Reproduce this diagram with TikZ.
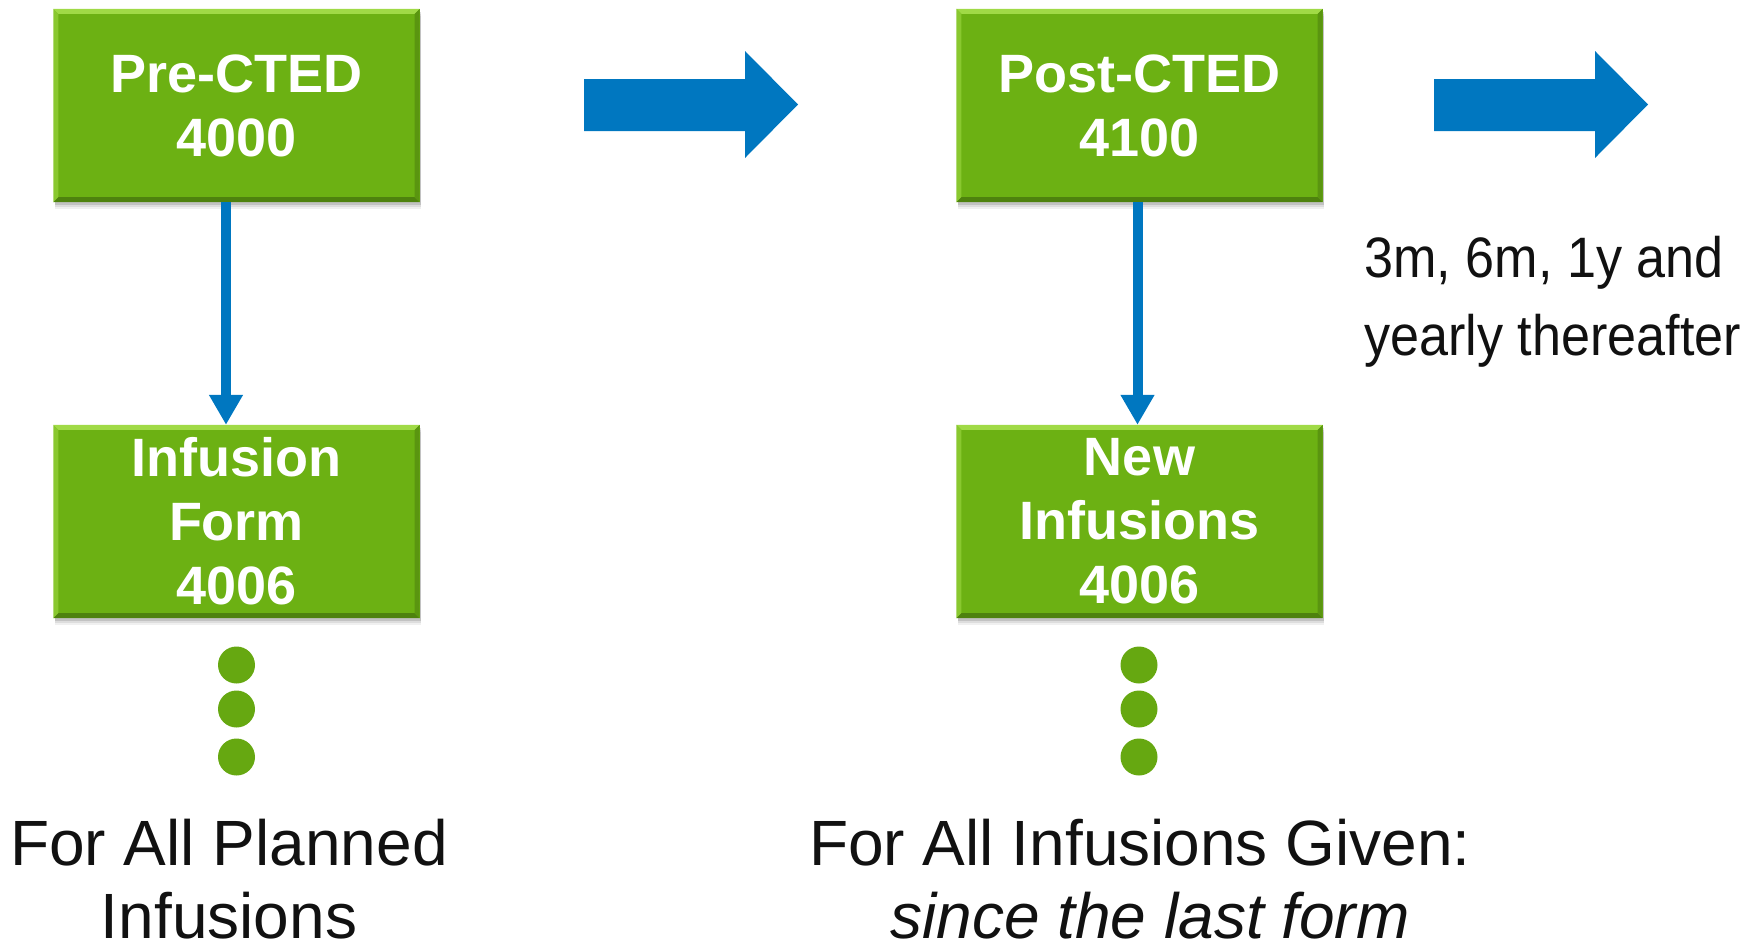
\documentclass[tikz,border=0pt]{standalone}
\usepackage{fontspec}
\setmainfont{Liberation Sans}
\newfontfamily\narrowfont[FakeStretch=0.915]{Liberation Sans}
\usetikzlibrary{arrows.meta,shadows}

\definecolor{boxgreen}{RGB}{108,177,19}
\definecolor{boxlight}{RGB}{160,218,70}
\definecolor{boxdark}{RGB}{78,130,14}
\definecolor{dotgreen}{RGB}{102,168,17}
\definecolor{flowblue}{RGB}{0,119,192}
\definecolor{inkblack}{RGB}{17,17,17}

% bevelled edges of a form box
\newcommand\bevelframe[1]{%
  \fill[boxlight] (#1.north west) -- (#1.north east) -- ([xshift=-5pt,yshift=-5pt]#1.north east) -- ([xshift=5pt,yshift=-5pt]#1.north west) -- cycle;
  \fill[boxlight!55!boxgreen] (#1.north west) -- ([xshift=5pt,yshift=-5pt]#1.north west) -- ([xshift=5pt,yshift=5pt]#1.south west) -- (#1.south west) -- cycle;
  \fill[boxdark] (#1.south west) -- (#1.south east) -- ([xshift=-5pt,yshift=5pt]#1.south east) -- ([xshift=5pt,yshift=5pt]#1.south west) -- cycle;
  \fill[boxdark!60!boxgreen] (#1.north east) -- (#1.south east) -- ([xshift=-5pt,yshift=5pt]#1.south east) -- ([xshift=-5pt,yshift=-5pt]#1.north east) -- cycle;
}

\begin{document}
\begin{tikzpicture}[x=1pt,y=-1pt,
  formbox/.style={rectangle, fill=boxgreen, minimum width=366pt, minimum height=193pt,
    inner sep=0pt, align=center, text=white,
    font=\fontsize{54}{64}\selectfont\bfseries,
    drop shadow={shadow xshift=1pt, shadow yshift=-7pt, opacity=0.06, fill=black},
    drop shadow={shadow xshift=1pt, shadow yshift=-5pt, opacity=0.08, fill=black},
    drop shadow={shadow xshift=1pt, shadow yshift=-3pt, opacity=0.12, fill=black}},
  dot/.style={circle, fill=dotgreen, minimum size=37pt, inner sep=0pt},
  flow/.style={draw=flowblue, line width=10pt, -{Triangle[width=32pt,length=30pt]}},
  bigarrow/.style={fill=flowblue},
  caption/.style={inner sep=0pt, text=inkblack, align=center, font=\fontsize{64}{73}\selectfont},
  note/.style={inner sep=0pt, text=inkblack, align=left, font=\narrowfont\fontsize{57}{78}\selectfont}
]
\useasboundingbox (0,0) rectangle (1748,946);

% form boxes
\node[formbox] (pre)  at (236.5,105.5) {Pre-CTED\\4000};
\node[formbox] (post) at (1139.5,105.5) {Post-CTED\\4100};
\node[formbox] (inf)  at (236.5,521.5) {Infusion\\Form\\4006};
\node[formbox] (new)  at (1139.5,521.5) {New\\Infusions\\4006};
\bevelframe{pre}
\bevelframe{post}
\bevelframe{inf}
\bevelframe{new}

% downward links
\draw[flow] ([xshift=-10.5pt]pre.south) -- ([xshift=-10.5pt]inf.north);
\draw[flow] ([xshift=-2pt]post.south) -- ([xshift=-2pt]new.north);

% block arrows between stages
\fill[bigarrow] (584,79) -- (745,79) -- (745,51) -- (798,104.5) -- (745,158) -- (745,131) -- (584,131) -- cycle;
\fill[bigarrow] (1434,79) -- (1595,79) -- (1595,51) -- (1648,104.5) -- (1595,158) -- (1595,131) -- (1434,131) -- cycle;

% continuation dots
\node[dot] (l1) at (236.5,665) {};
\node[dot] (l2) at (236.5,709) {};
\node[dot] (l3) at (236.5,757) {};
\node[dot] (r1) at (1139,665) {};
\node[dot] (r2) at (1139,709) {};
\node[dot] (r3) at (1139,757) {};

% captions (base anchor sits on the last line)
\node[caption, anchor=base] (capl) at (229,938) {For All Planned\\Infusions};
\node[caption, anchor=base] (capr) at (1140,938) {For All Infusions Given:\\\hspace*{20pt}\itshape since the last form};
\node[note, anchor=base west] (sched) at (1364,355) {3m, 6m, 1y and\\yearly thereafter};
\end{tikzpicture}
\end{document}
